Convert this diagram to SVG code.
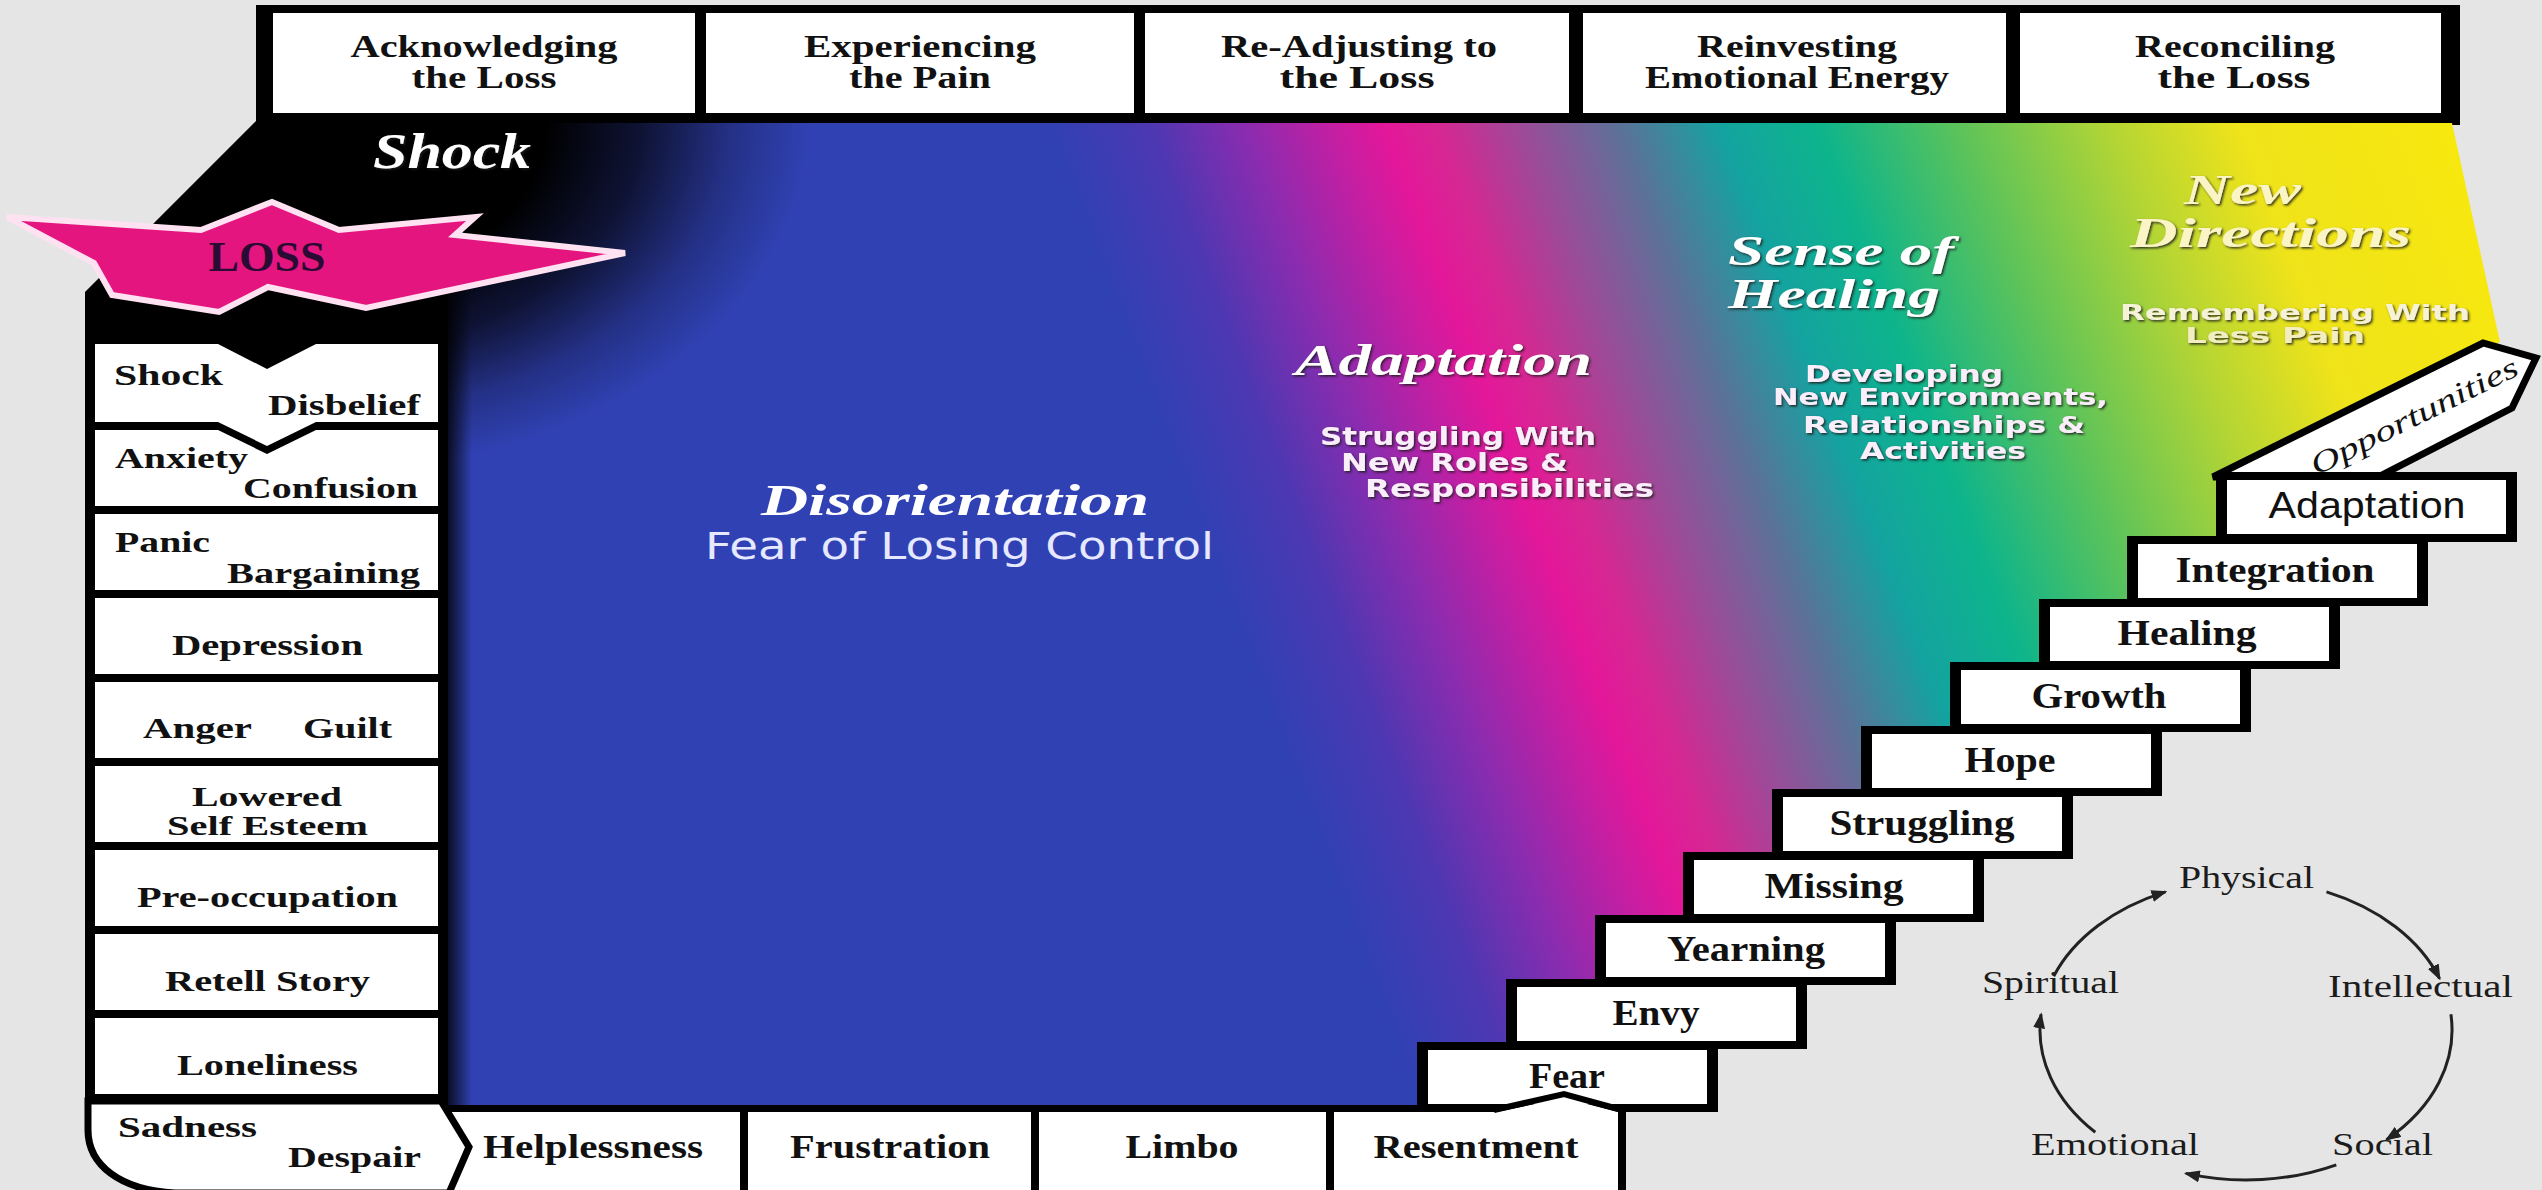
<svg xmlns="http://www.w3.org/2000/svg" width="2542" height="1190" viewBox="0 0 2542 1190">
<defs>
<style>
.hdr{font-family:"Liberation Serif","Times New Roman",serif;font-size:31px;font-weight:bold;fill:#111;text-anchor:middle}
.col{font-family:"Liberation Serif","Times New Roman",serif;font-size:30px;font-weight:bold;fill:#111}
.bot{font-family:"Liberation Serif","Times New Roman",serif;font-size:33px;font-weight:bold;fill:#111;text-anchor:middle}
.stp{font-family:"Liberation Serif","Times New Roman",serif;font-size:36px;font-weight:bold;fill:#111;text-anchor:middle}
.stps{font-family:"Liberation Sans",Arial,sans-serif;font-size:36px;fill:#111;text-anchor:middle}
.cyc{font-family:"Liberation Serif","Times New Roman",serif;font-size:31px;fill:#1c1c1c}
.ttl{font-family:"Liberation Serif","Times New Roman",serif;font-style:italic;font-weight:bold;fill:#fff}
.sub{font-family:"DejaVu Sans",sans-serif;font-weight:bold;font-size:25px;fill:#fbeefb}
.wbox{fill:#fff}
.sbox{fill:#000}
.arc{fill:none;stroke:#222;stroke-width:3;marker-end:url(#ah)}
</style>
<marker id="ah" markerUnits="userSpaceOnUse" markerWidth="16" markerHeight="12" refX="14" refY="6" orient="auto">
<path d="M0,0 L16,6 L0,12 z" fill="#222"/>
</marker>
<linearGradient id="rainbow" gradientUnits="userSpaceOnUse" x1="1000" y1="0" x2="2400" y2="0" gradientTransform="skewX(20.8)">
<stop offset="0" stop-color="#3041b3"/>
<stop offset="0.07" stop-color="#4b38b2"/>
<stop offset="0.14" stop-color="#8a2caf"/>
<stop offset="0.20" stop-color="#c21fa3"/>
<stop offset="0.24" stop-color="#e4179a"/>
<stop offset="0.28" stop-color="#d52892"/>
<stop offset="0.34" stop-color="#9a4c98"/>
<stop offset="0.41" stop-color="#5a7398"/>
<stop offset="0.48" stop-color="#14a3a0"/>
<stop offset="0.55" stop-color="#0db48c"/>
<stop offset="0.65" stop-color="#5cc35a"/>
<stop offset="0.76" stop-color="#b4d534"/>
<stop offset="0.85" stop-color="#efe31a"/>
<stop offset="1" stop-color="#f7e80e"/>
</linearGradient>
<radialGradient id="dark" gradientUnits="userSpaceOnUse" cx="320" cy="121" r="490" gradientTransform="translate(320 121) scale(1 0.72) translate(-320 -121)">
<stop offset="0" stop-color="#000" stop-opacity="1"/>
<stop offset="0.46" stop-color="#000" stop-opacity="1"/>
<stop offset="0.66" stop-color="#000" stop-opacity="0.7"/>
<stop offset="0.84" stop-color="#000" stop-opacity="0.25"/>
<stop offset="1" stop-color="#000" stop-opacity="0"/>
</radialGradient>
<linearGradient id="edge" x1="0" y1="0" x2="1" y2="0">
<stop offset="0" stop-color="#000" stop-opacity="0.8"/>
<stop offset="1" stop-color="#000" stop-opacity="0"/>
</linearGradient>
<filter id="sh" x="-10%" y="-30%" width="120%" height="160%">
<feDropShadow dx="1.5" dy="1.5" stdDeviation="0.8" flood-color="#1a1a1a" flood-opacity="0.9"/>
</filter>
<path id="area" d="M448,123 L2452,123 L2500,342 L2220,478 L2220,540 L2131,540 L2131,603 L2043,603 L2043,666 L1954,666 L1954,730 L1865,730 L1865,793 L1776,793 L1776,856 L1687,856 L1687,919 L1599,919 L1599,983 L1510,983 L1510,1046 L1421,1046 L1421,1106 L448,1106 Z"/>
</defs>

<rect x="0" y="0" width="2542" height="1190" fill="#e5e5e5"/>

<g id="frame">
<path d="M256,5 H2460 V125 H452 V1105 H85 V292 L256,121 Z" fill="#000"/>
<use href="#area" fill="url(#rainbow)"/>
<use href="#area" fill="url(#dark)"/>
<rect x="448" y="123" width="24" height="983" fill="url(#edge)"/>
</g>

<g id="top-stages">
<g id="stage-1"><rect class="wbox" x="273" y="13" width="422" height="100"/>
<text class="hdr" x="484" y="57" textLength="267" lengthAdjust="spacingAndGlyphs">Acknowledging</text>
<text class="hdr" x="484" y="88" textLength="145" lengthAdjust="spacingAndGlyphs">the Loss</text></g>
<g id="stage-2"><rect class="wbox" x="706" y="13" width="428" height="100"/>
<text class="hdr" x="920" y="57" textLength="232" lengthAdjust="spacingAndGlyphs">Experiencing</text>
<text class="hdr" x="920" y="88" textLength="142" lengthAdjust="spacingAndGlyphs">the Pain</text></g>
<g id="stage-3"><rect class="wbox" x="1145" y="13" width="424" height="100"/>
<text class="hdr" x="1359" y="57" textLength="276" lengthAdjust="spacingAndGlyphs">Re-Adjusting to</text>
<text class="hdr" x="1357" y="88" textLength="155" lengthAdjust="spacingAndGlyphs">the Loss</text></g>
<g id="stage-4"><rect class="wbox" x="1583" y="13" width="423" height="100"/>
<text class="hdr" x="1797" y="57" textLength="200" lengthAdjust="spacingAndGlyphs">Reinvesting</text>
<text class="hdr" x="1797" y="88" textLength="304" lengthAdjust="spacingAndGlyphs">Emotional Energy</text></g>
<g id="stage-5"><rect class="wbox" x="2020" y="13" width="421" height="100"/>
<text class="hdr" x="2235" y="57" textLength="200" lengthAdjust="spacingAndGlyphs">Reconciling</text>
<text class="hdr" x="2234" y="88" textLength="153" lengthAdjust="spacingAndGlyphs">the Loss</text></g>
</g>

<g id="loss">
<polygon points="7,217 201,230 272,202 339,230 475,217 455,235 625,253 366,308 268,287 219,312 112,295 94,263" fill="#e5157f" stroke="#ffe2f2" stroke-width="6" stroke-linejoin="miter"/>
<text x="267" y="271" font-family="Liberation Serif, serif" font-weight="bold" font-size="42" fill="#2a0b33" text-anchor="middle" textLength="117" lengthAdjust="spacingAndGlyphs">LOSS</text>
</g>

<g id="shock-label">
<text class="ttl" x="373" y="168" font-size="50" textLength="158" lengthAdjust="spacingAndGlyphs" filter="url(#sh)">Shock</text>
</g>

<g id="emotions">
<g id="e-shock"><polygon class="wbox" points="95,344 218,344 267,369 316,344 438,344 438,422 316,422 267,446 218,422 95,422"/>
<text class="col" x="114" y="385" textLength="109" lengthAdjust="spacingAndGlyphs">Shock</text>
<text class="col" x="268" y="415" textLength="152" lengthAdjust="spacingAndGlyphs">Disbelief</text></g>
<g id="e-anxiety"><polygon class="wbox" points="95,430 218,430 267,454 316,430 438,430 438,506 95,506"/>
<text class="col" x="115" y="468" textLength="133" lengthAdjust="spacingAndGlyphs">Anxiety</text>
<text class="col" x="243" y="498" textLength="175" lengthAdjust="spacingAndGlyphs">Confusion</text></g>
<g id="e-panic"><rect class="wbox" x="95" y="514" width="343" height="76"/>
<text class="col" x="115" y="552" textLength="95" lengthAdjust="spacingAndGlyphs">Panic</text>
<text class="col" x="227" y="583" textLength="193" lengthAdjust="spacingAndGlyphs">Bargaining</text></g>
<g id="e-depression"><rect class="wbox" x="95" y="598" width="343" height="76"/>
<text class="col" x="172" y="655" textLength="191" lengthAdjust="spacingAndGlyphs">Depression</text></g>
<g id="e-anger"><rect class="wbox" x="95" y="682" width="343" height="76"/>
<text class="col" x="143" y="738" textLength="109" lengthAdjust="spacingAndGlyphs">Anger</text>
<text class="col" x="303" y="738" textLength="89" lengthAdjust="spacingAndGlyphs">Guilt</text></g>
<g id="e-lowered"><rect class="wbox" x="95" y="766" width="343" height="76"/>
<text class="col" x="192" y="806" font-size="28" style="font-size:28px" textLength="150" lengthAdjust="spacingAndGlyphs">Lowered</text>
<text class="col" x="167" y="835" font-size="28" style="font-size:28px" textLength="201" lengthAdjust="spacingAndGlyphs">Self Esteem</text></g>
<g id="e-preoccupation"><rect class="wbox" x="95" y="850" width="343" height="76"/>
<text class="col" x="137" y="907" textLength="261" lengthAdjust="spacingAndGlyphs">Pre-occupation</text></g>
<g id="e-retell"><rect class="wbox" x="95" y="934" width="343" height="76"/>
<text class="col" x="165" y="991" textLength="205" lengthAdjust="spacingAndGlyphs">Retell Story</text></g>
<g id="e-loneliness"><rect class="wbox" x="95" y="1018" width="343" height="76"/>
<text class="col" x="177" y="1075" textLength="181" lengthAdjust="spacingAndGlyphs">Loneliness</text></g>
</g>

<g id="bottom-row">
<rect x="445" y="1105" width="1181" height="85" fill="#000"/>
<g id="b-helplessness"><rect class="wbox" x="448" y="1112" width="292" height="78"/>
<text class="bot" x="593" y="1158" textLength="220" lengthAdjust="spacingAndGlyphs">Helplessness</text></g>
<g id="b-frustration"><rect class="wbox" x="748" y="1112" width="283" height="78"/>
<text class="bot" x="890" y="1158" textLength="200" lengthAdjust="spacingAndGlyphs">Frustration</text></g>
<g id="b-limbo"><rect class="wbox" x="1039" y="1112" width="287" height="78"/>
<text class="bot" x="1182" y="1158" textLength="113" lengthAdjust="spacingAndGlyphs">Limbo</text></g>
</g>

<g id="e-sadness">
<path d="M88,1101 L441,1101 L469,1147 L449,1193 L175,1193 C120,1190 88,1165 88,1130 Z" fill="#fff" stroke="#000" stroke-width="7" stroke-linejoin="miter"/>
<text class="col" x="118" y="1137" textLength="139" lengthAdjust="spacingAndGlyphs">Sadness</text>
<text class="col" x="288" y="1167" textLength="133" lengthAdjust="spacingAndGlyphs">Despair</text>
</g>

<g id="opportunities">
<polygon points="2213,477 2483,343 2536,358 2512,408 2378,477" fill="#fff" stroke="#000" stroke-width="7"/>
<text x="0" y="10" transform="translate(2414 416) rotate(-26.5)" font-family="Liberation Serif, serif" font-style="italic" font-size="30" fill="#111" text-anchor="middle" textLength="228" lengthAdjust="spacingAndGlyphs">Opportunities</text>
</g>

<g id="steps">
<g id="s-adaptation"><rect class="sbox" x="2216" y="472" width="301" height="70"/><rect class="wbox" x="2227" y="480" width="279" height="54"/>
<text class="stps" x="2367" y="518" textLength="197" lengthAdjust="spacingAndGlyphs">Adaptation</text></g>
<g id="s-integration"><rect class="sbox" x="2127" y="536" width="301" height="70"/><rect class="wbox" x="2138" y="544" width="279" height="54"/>
<text class="stp" x="2275" y="582" textLength="199" lengthAdjust="spacingAndGlyphs">Integration</text></g>
<g id="s-healing"><rect class="sbox" x="2039" y="599" width="301" height="70"/><rect class="wbox" x="2050" y="607" width="279" height="54"/>
<text class="stp" x="2187" y="645" textLength="139" lengthAdjust="spacingAndGlyphs">Healing</text></g>
<g id="s-growth"><rect class="sbox" x="1950" y="662" width="301" height="70"/><rect class="wbox" x="1961" y="670" width="279" height="54"/>
<text class="stp" x="2099" y="708" textLength="135" lengthAdjust="spacingAndGlyphs">Growth</text></g>
<g id="s-hope"><rect class="sbox" x="1861" y="726" width="301" height="70"/><rect class="wbox" x="1872" y="734" width="279" height="54"/>
<text class="stp" x="2010" y="772" textLength="91" lengthAdjust="spacingAndGlyphs">Hope</text></g>
<g id="s-struggling"><rect class="sbox" x="1772" y="789" width="301" height="70"/><rect class="wbox" x="1783" y="797" width="279" height="54"/>
<text class="stp" x="1922" y="835" textLength="185" lengthAdjust="spacingAndGlyphs">Struggling</text></g>
<g id="s-missing"><rect class="sbox" x="1683" y="852" width="301" height="70"/><rect class="wbox" x="1694" y="860" width="279" height="54"/>
<text class="stp" x="1834" y="898" textLength="139" lengthAdjust="spacingAndGlyphs">Missing</text></g>
<g id="s-yearning"><rect class="sbox" x="1595" y="915" width="301" height="70"/><rect class="wbox" x="1606" y="923" width="279" height="54"/>
<text class="stp" x="1746" y="961" textLength="158" lengthAdjust="spacingAndGlyphs">Yearning</text></g>
<g id="s-envy"><rect class="sbox" x="1506" y="979" width="301" height="70"/><rect class="wbox" x="1517" y="987" width="279" height="54"/>
<text class="stp" x="1656" y="1025" textLength="87" lengthAdjust="spacingAndGlyphs">Envy</text></g>
<g id="s-fear"><rect class="sbox" x="1417" y="1042" width="301" height="70"/><rect class="wbox" x="1428" y="1050" width="279" height="54"/>
<text class="stp" x="1567" y="1088" textLength="76" lengthAdjust="spacingAndGlyphs">Fear</text></g>
</g>

<g id="b-resentment">
<polygon class="wbox" points="1334,1112 1497,1112 1564,1098 1618,1112 1618,1190 1334,1190"/>
<polyline points="1494,1110 1564,1094 1622,1110" fill="none" stroke="#000" stroke-width="6"/>
<rect x="1618" y="1108" width="7" height="82" fill="#000"/>
<text class="bot" x="1476" y="1158" textLength="205" lengthAdjust="spacingAndGlyphs">Resentment</text>
</g>

<g id="phase-labels">
<g id="disorientation">
<text class="ttl" x="761" y="515" font-size="44" textLength="388" lengthAdjust="spacingAndGlyphs">Disorientation</text>
<text x="705" y="559" font-family="DejaVu Sans, sans-serif" font-size="38" fill="#e6e8ff" textLength="509" lengthAdjust="spacingAndGlyphs">Fear of Losing Control</text>
</g>
<g id="adaptation" filter="url(#sh)">
<text class="ttl" x="1295" y="375" font-size="44" textLength="297" lengthAdjust="spacingAndGlyphs">Adaptation</text>
<text class="sub" x="1320" y="445" textLength="276" lengthAdjust="spacingAndGlyphs">Struggling With</text>
<text class="sub" x="1341" y="471" textLength="227" lengthAdjust="spacingAndGlyphs">New Roles &amp;</text>
<text class="sub" x="1365" y="497" textLength="289" lengthAdjust="spacingAndGlyphs">Responsibilities</text>
</g>
<g id="sense-of-healing" filter="url(#sh)">
<text class="ttl" x="1728" y="265" font-size="42" textLength="226" lengthAdjust="spacingAndGlyphs">Sense of</text>
<text class="ttl" x="1728" y="308" font-size="42" textLength="212" lengthAdjust="spacingAndGlyphs">Healing</text>
<text class="sub" x="1805" y="382" style="font-size:23px" textLength="198" lengthAdjust="spacingAndGlyphs">Developing</text>
<text class="sub" x="1773" y="405" style="font-size:23px" textLength="335" lengthAdjust="spacingAndGlyphs">New Environments,</text>
<text class="sub" x="1803" y="433" style="font-size:23px" textLength="282" lengthAdjust="spacingAndGlyphs">Relationships &amp;</text>
<text class="sub" x="1860" y="459" style="font-size:23px" textLength="166" lengthAdjust="spacingAndGlyphs">Activities</text>
</g>
<g id="new-directions" filter="url(#sh)">
<text class="ttl" x="2184" y="204" font-size="42" style="fill:#fbf4c4" textLength="117" lengthAdjust="spacingAndGlyphs">New</text>
<text class="ttl" x="2130" y="247" font-size="42" style="fill:#fbf4c4" textLength="281" lengthAdjust="spacingAndGlyphs">Directions</text>
<text class="sub" x="2120" y="320" style="fill:#f6f2d8;font-size:22px" textLength="350" lengthAdjust="spacingAndGlyphs">Remembering With</text>
<text class="sub" x="2185" y="343" style="fill:#f2eec0;font-size:22px" textLength="180" lengthAdjust="spacingAndGlyphs">Less Pain</text>
</g>
</g>

<g id="cycle">
<g id="c-physical"><text class="cyc" x="2179" y="888" textLength="135" lengthAdjust="spacingAndGlyphs">Physical</text></g>
<g id="c-intellectual"><text class="cyc" x="2328" y="997" textLength="185" lengthAdjust="spacingAndGlyphs">Intellectual</text></g>
<g id="c-social"><text class="cyc" x="2332" y="1155" textLength="101" lengthAdjust="spacingAndGlyphs">Social</text></g>
<g id="c-emotional"><text class="cyc" x="2031" y="1155" textLength="168" lengthAdjust="spacingAndGlyphs">Emotional</text></g>
<g id="c-spiritual"><text class="cyc" x="1982" y="993" textLength="137" lengthAdjust="spacingAndGlyphs">Spiritual</text></g>
</g>

<g id="connectors">
<path class="arc" d="M2053.7,976.2 A206,150 0 0 1 2165.5,891.9"/>
<path class="arc" d="M2326.5,891.9 A206,150 0 0 1 2439.6,978.7"/>
<path class="arc" d="M2450.9,1014.3 A206,150 0 0 1 2386.5,1139.7"/>
<path class="arc" d="M2336.3,1164.8 A206,150 0 0 1 2185.8,1173.4"/>
<path class="arc" d="M2095.3,1132.3 A206,150 0 0 1 2041.1,1014.3"/>
</g>
</svg>
